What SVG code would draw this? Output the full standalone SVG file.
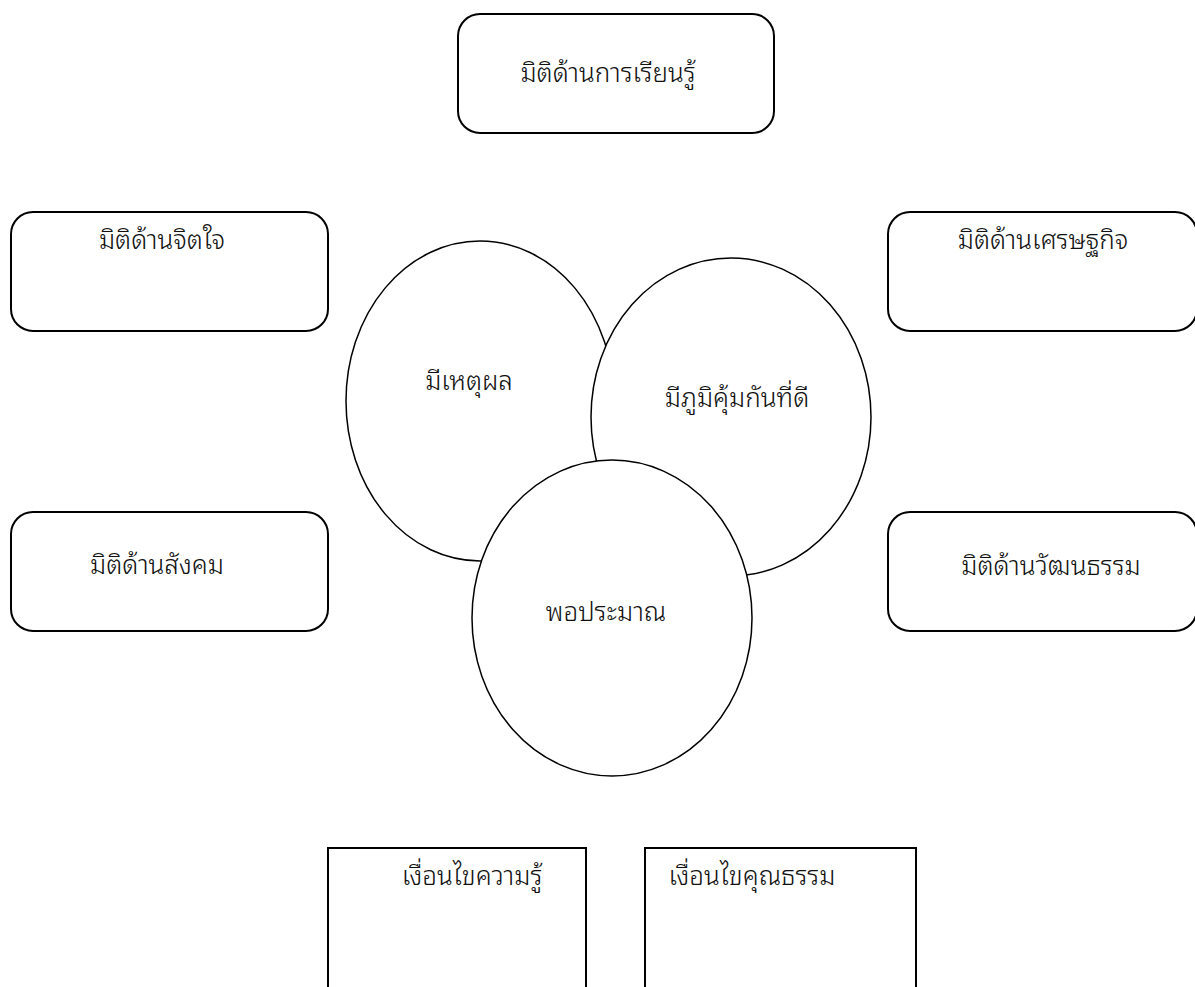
<svg xmlns="http://www.w3.org/2000/svg" width="1195" height="987" viewBox="0 0 1195 987">
<style>
.box{fill:#fff;stroke:#000;stroke-width:2}
.ell{fill:#fff;stroke:#000;stroke-width:1.5}
.t{font-family:"Noto Sans Thai Looped","Noto Sans Thai","Tahoma","Noto Sans","DejaVu Sans",sans-serif;font-size:26px;font-weight:300;fill:#111;text-anchor:middle}
</style>
<rect width="1195" height="987" fill="#fff"/>
<g id="connectors"></g>
<g id="n-learning"><rect class="box" x="458" y="14" width="316" height="119" rx="22"/><text class="t" x="608" y="82">มิติด้านการเรียนรู้</text></g>
<g id="n-mind"><rect class="box" x="11" y="212" width="317" height="119" rx="22"/><text class="t" x="162" y="249">มิติด้านจิตใจ</text></g>
<g id="n-economy"><rect class="box" x="888" y="212" width="309" height="119" rx="22"/><text class="t" x="1043" y="249">มิติด้านเศรษฐกิจ</text></g>
<g id="n-social"><rect class="box" x="11" y="512" width="317" height="119" rx="22"/><text class="t" x="157" y="574">มิติด้านสังคม</text></g>
<g id="n-culture"><rect class="box" x="888" y="512" width="309" height="119" rx="22"/><text class="t" x="1051" y="575">มิติด้านวัฒนธรรม</text></g>
<g id="n-reason"><ellipse class="ell" cx="480" cy="401" rx="134" ry="160"/><text class="t" x="469" y="390">มีเหตุผล</text></g>
<g id="n-immunity"><ellipse class="ell" cx="731" cy="417" rx="140" ry="159"/><text class="t" x="737" y="407">มีภูมิคุ้มกันที่ดี</text></g>
<g id="n-moderation"><ellipse class="ell" cx="612" cy="618" rx="140" ry="158"/><text class="t" x="606" y="621">พอประมาณ</text></g>
<g id="n-knowledge"><rect class="box" x="328" y="848" width="258" height="150"/><text class="t" x="472" y="885">เงื่อนไขความรู้</text></g>
<g id="n-virtue"><rect class="box" x="645" y="848" width="271" height="150"/><text class="t" x="752" y="885">เงื่อนไขคุณธรรม</text></g>
</svg>
